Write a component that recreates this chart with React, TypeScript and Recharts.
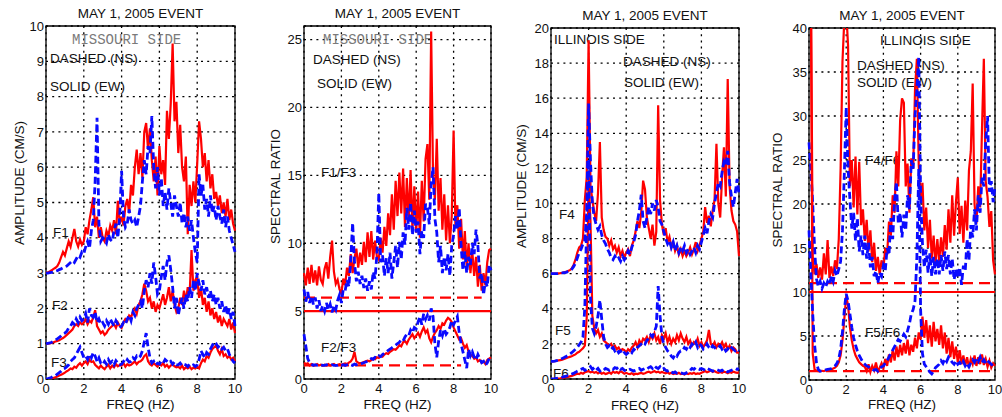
import React from 'react';
import {
  LineChart,
  Line,
  XAxis,
  YAxis,
  CartesianGrid,
  ReferenceLine,
  ReferenceArea,
  Customized,
} from 'recharts';

const FONT = '"Liberation Sans", Arial, Helvetica, sans-serif';
const MONO = '"Liberation Mono", "Courier New", monospace';
const RED = '#ff0000';
const BLUE = '#0a0aff';
const PAGE_W = 1002;
const PAGE_H = 417;
const Y_AXIS_W = 30;
const X_AXIS_H = 30;

// frequency samples (Hz)
const FREQ = [
  0, 0.1, 0.2, 0.3, 0.4, 0.5, 0.6, 0.7, 0.8, 0.9,
  1, 1.1, 1.2, 1.3, 1.4, 1.5, 1.6, 1.7, 1.8, 1.9,
  2, 2.1, 2.2, 2.3, 2.4, 2.5, 2.6, 2.7, 2.8, 2.9,
  3, 3.1, 3.2, 3.3, 3.4, 3.5, 3.6, 3.7, 3.8, 3.9,
  4, 4.1, 4.2, 4.3, 4.4, 4.5, 4.6, 4.7, 4.8, 4.9,
  5, 5.1, 5.2, 5.3, 5.4, 5.5, 5.6, 5.7, 5.8, 5.9,
  6, 6.1, 6.2, 6.3, 6.4, 6.5, 6.6, 6.7, 6.8, 6.9,
  7, 7.1, 7.2, 7.3, 7.4, 7.5, 7.6, 7.7, 7.8, 7.9,
  8, 8.1, 8.2, 8.3, 8.4, 8.5, 8.6, 8.7, 8.8, 8.9,
  9, 9.1, 9.2, 9.3, 9.4, 9.5, 9.6, 9.7, 9.8, 9.9,
  10,
];
const FREQ_TICKS = [0, 2, 4, 6, 8, 10];

// Missouri side amplitude spectra (cm/s); F1 shifted +3, F2 shifted +1
const F1_EW = [
  3.0, 3.02, 3.05, 3.08, 3.12, 3.15, 3.2, 3.3, 3.45, 3.6,
  3.5, 3.7, 3.9, 3.75, 4.0, 4.25, 3.9, 3.75, 3.95, 3.8,
  3.9, 4.3, 4.1, 4.5, 4.8, 5.15, 4.3, 4.6, 4.0, 4.3,
  4.0, 3.9, 4.2, 4.05, 4.35, 4.2, 4.5, 4.1, 5.05, 4.4,
  4.6, 4.35, 4.9, 5.1, 4.7, 5.5, 5.2, 6.0, 6.5, 5.8,
  6.4, 5.7, 7.0, 7.25, 6.5, 7.1, 6.2, 5.6, 6.3, 5.2,
  6.6, 5.8, 6.2, 5.5, 7.6, 6.8, 7.8, 9.5, 7.3, 7.85,
  6.4, 7.2, 6.0, 5.6, 6.3, 4.1, 5.5, 4.9, 5.6, 5.0,
  6.1, 7.3, 6.8, 6.0, 6.4, 5.6, 6.2, 5.4, 5.8, 5.1,
  5.3, 4.9, 5.2, 4.7, 5.0, 4.6, 5.1, 4.5, 4.8, 4.4,
  4.2,
];
const F1_NS = [
  3.0, 3.0, 3.01, 3.02, 3.03, 3.05, 3.07, 3.1, 3.12, 3.15,
  3.18, 3.2, 3.25, 3.3, 3.35, 3.3, 3.4, 3.5, 3.45, 3.6,
  3.55, 3.75, 3.9, 3.7, 4.2, 4.5, 5.6, 7.4, 4.4, 3.9,
  4.0, 3.95, 3.85, 4.1, 3.95, 3.9, 4.2, 4.4, 4.0, 4.6,
  5.9, 4.6, 4.3, 4.4, 4.8, 4.5, 4.4, 4.5, 4.3, 4.6,
  4.9, 5.6, 6.2, 5.8, 6.6, 6.4, 7.45, 6.0, 5.4, 6.0,
  5.2, 5.7, 4.9, 5.3, 4.8, 5.4, 5.0, 4.6, 5.2, 4.9,
  4.6, 5.0, 4.4, 4.7, 4.3, 4.6, 4.2, 4.5, 4.0, 3.6,
  3.3, 5.8, 5.2, 5.5, 4.8, 5.1, 4.6, 5.2, 4.7, 4.9,
  4.5, 4.9, 4.6, 4.4, 4.8, 4.3, 4.6, 4.2, 4.0, 3.8,
  3.6,
];
const F2_EW = [
  1.0, 1.0, 1.01, 1.02, 1.04, 1.06, 1.08, 1.1, 1.13, 1.16,
  1.2, 1.25, 1.3, 1.35, 1.4, 1.5, 1.55, 1.5, 1.6, 1.55,
  1.6, 1.7, 1.55, 1.65, 1.6, 1.75, 1.95, 1.5, 1.4, 1.3,
  1.35, 1.25, 1.3, 1.4, 1.45, 1.5, 1.55, 1.45, 1.6, 1.5,
  1.45, 1.6, 1.7, 1.65, 1.8, 1.75, 1.9, 2.0, 1.85, 2.1,
  2.2, 2.4, 2.7, 2.5, 2.2, 2.3, 2.0, 2.2, 1.9, 2.1,
  2.0, 2.2, 2.4, 2.1, 2.3, 2.6, 2.2, 2.5, 2.1, 1.9,
  2.0, 2.3, 2.1, 2.5, 2.2, 2.6, 2.4, 3.65, 2.5, 2.8,
  2.9, 2.3, 2.6, 2.1, 2.3, 1.9, 2.2, 1.8, 2.0, 1.7,
  1.9, 1.6, 1.8, 1.5, 1.7, 1.6, 1.5, 1.7, 1.4, 1.6,
  1.3,
];
const F2_NS = [
  1.0, 1.01, 1.02, 1.04, 1.07, 1.1, 1.14, 1.18, 1.22, 1.27,
  1.3, 1.35, 1.45, 1.5, 1.6, 1.55, 1.7, 1.6, 1.75, 1.65,
  1.7, 1.85, 1.6, 2.0, 1.8, 1.75, 1.9, 1.6, 1.7, 1.55,
  1.6, 1.5, 1.65, 1.55, 1.7, 1.6, 1.5, 1.65, 1.55, 1.45,
  1.5, 1.6, 1.55, 1.7, 1.8, 1.65, 1.9, 1.8, 2.0, 2.1,
  2.2, 2.0, 2.5, 2.8, 2.6, 3.0, 2.7, 3.3, 2.9, 2.4,
  2.5, 2.9, 3.2, 2.8, 3.3, 3.5, 3.1, 2.6, 2.0, 2.3,
  1.8, 2.1, 2.3, 2.0, 2.4, 2.2, 2.6, 2.3, 2.8, 2.5,
  3.0, 2.7, 2.5, 2.8, 2.4, 2.6, 2.3, 2.5, 2.2, 2.4,
  2.1, 2.3, 2.0, 2.2, 1.9, 2.1, 1.8, 2.0, 1.7, 1.9,
  1.5,
];
const F3_EW = [
  0.0, 0.0, 0.01, 0.02, 0.03, 0.05, 0.07, 0.1, 0.12, 0.15,
  0.18, 0.22, 0.25, 0.3, 0.28, 0.35, 0.32, 0.4, 0.45, 0.38,
  0.45, 0.5, 0.42, 0.55, 0.48, 0.5, 0.4, 0.35, 0.3, 0.38,
  0.32, 0.28, 0.35, 0.4, 0.3, 0.38, 0.33, 0.42, 0.36, 0.4,
  0.38, 0.45, 0.35, 0.42, 0.38, 0.4, 0.45, 0.5, 0.42, 0.48,
  0.5, 0.55, 0.65, 0.7, 0.5, 0.42, 0.38, 0.45, 0.4, 0.35,
  0.42, 0.38, 0.45, 0.35, 0.4, 0.32, 0.38, 0.42, 0.36, 0.33,
  0.35, 0.3, 0.38, 0.28, 0.33, 0.3, 0.35, 0.28, 0.32, 0.3,
  0.35, 0.3, 0.45, 0.55, 0.5, 0.65, 0.6, 0.75, 0.85, 0.9,
  0.95, 0.8, 0.7, 0.85, 0.65, 0.7, 0.6, 0.65, 0.55, 0.6,
  0.5,
];
const F3_NS = [
  0.0, 0.01, 0.03, 0.05, 0.08, 0.1, 0.14, 0.18, 0.22, 0.28,
  0.3, 0.35, 0.4, 0.5, 0.55, 0.6, 0.7, 0.8, 0.9, 0.75,
  0.6, 0.65, 0.55, 0.7, 0.6, 0.75, 0.65, 0.5, 0.6, 0.45,
  0.4, 0.5, 0.42, 0.55, 0.45, 0.5, 0.4, 0.52, 0.45, 0.4,
  0.42, 0.5, 0.45, 0.55, 0.48, 0.5, 0.6, 0.55, 0.65, 0.6,
  0.65, 0.8, 1.05, 1.3, 0.9, 0.6, 0.45, 0.5, 0.4, 0.45,
  0.42, 0.5, 0.45, 0.55, 0.5, 0.45, 0.5, 0.42, 0.48, 0.4,
  0.4, 0.45, 0.38, 0.42, 0.4, 0.35, 0.42, 0.38, 0.4, 0.35,
  0.4, 0.55, 0.8, 0.7, 0.6, 0.75, 0.7, 0.85, 0.95, 1.05,
  1.0, 0.9, 0.95, 0.85, 0.9, 0.8, 0.85, 0.7, 0.6, 0.5,
  0.45,
];

// Missouri side spectral ratios; F1/F3 shifted +5
const F1F3_EW = [
  7.8, 6.9, 8.2, 7.0, 8.4, 7.1, 8.0, 6.9, 8.3, 7.3,
  7.0, 8.1, 8.6, 7.4, 9.0, 10.2, 7.9, 7.0, 7.3, 6.6,
  6.3, 7.4, 6.9, 8.2, 7.6, 9.2, 7.8, 8.9, 9.6, 8.2,
  9.3, 8.4, 10.1, 8.6, 10.8, 9.0, 10.9, 8.8, 10.2, 9.0,
  8.8, 10.4, 9.3, 11.2, 9.8, 12.2, 10.6, 13.6, 11.0, 14.6,
  12.0, 15.2, 12.2, 15.5, 11.2, 14.8, 11.6, 15.4, 11.0, 14.2,
  10.8, 13.8, 10.4, 14.6, 11.6, 16.2, 17.3, 13.2, 25.6, 15.0,
  13.2, 17.7, 12.4, 14.8, 11.0, 13.6, 10.2, 12.8, 10.0, 12.0,
  18.3, 11.2, 12.8, 9.6, 11.8, 8.8, 10.9, 8.2, 10.0, 7.8,
  9.4, 7.6, 9.0, 6.8, 8.4, 6.5, 7.8, 6.9, 8.6, 9.5,
  9.6,
];
const F1F3_NS = [
  6.6, 5.7, 6.4, 5.6, 6.1, 5.5, 6.0, 5.2, 5.8, 5.0,
  5.4, 5.0, 5.6, 5.1, 5.5, 4.9, 5.4, 5.1, 5.8, 6.2,
  5.6, 6.6, 6.5, 7.3, 6.8, 8.8, 11.5, 8.6, 7.2, 7.9,
  7.0, 7.6, 6.7, 7.4, 6.5, 7.2, 6.6, 7.9, 7.4, 9.2,
  13.7, 8.6, 9.1, 7.6, 8.9, 7.8, 9.3, 7.4, 8.6, 9.8,
  8.2, 10.1, 8.8, 10.8, 9.9, 12.6, 11.0, 13.0, 10.6, 12.4,
  10.8, 11.6, 9.2, 10.9, 10.4, 12.9, 12.6, 11.4, 14.4, 15.6,
  11.8, 10.8, 8.6, 9.8, 7.8, 9.0, 8.0, 9.2, 7.6, 9.8,
  10.6, 12.0, 11.0, 12.6, 9.8, 8.0, 9.4, 7.8, 9.0, 8.4,
  10.0, 9.2, 11.0, 9.8, 7.4, 7.8, 6.2, 7.2, 6.8, 8.4,
  8.0,
];
const F2F3_EW = [
  1.2, 1.1, 1.15, 1.0, 1.1, 1.05, 1.0, 1.1, 1.0, 1.05,
  1.0, 1.05, 1.0, 1.1, 1.0, 1.05, 1.1, 1.0, 1.05, 1.1,
  1.05, 1.1, 1.15, 1.1, 1.2, 1.3, 1.5, 2.0, 1.3, 1.2,
  1.15, 1.2, 1.25, 1.3, 1.35, 1.3, 1.4, 1.5, 1.45, 1.6,
  1.55, 1.7, 1.65, 1.8, 1.9, 1.85, 2.0, 2.1, 2.2, 2.15,
  2.3, 2.5, 2.4, 2.7, 2.8, 2.6, 2.9, 3.1, 3.3, 3.0,
  3.2, 3.4, 3.1, 3.5, 3.8, 3.4, 3.6, 3.0, 2.7, 3.1,
  3.4, 3.6, 3.9, 3.7, 4.1, 4.0, 4.3, 4.5, 4.4, 4.2,
  3.8, 3.5, 3.2, 2.9, 3.0, 2.6, 2.3, 2.5, 2.0, 1.8,
  1.7, 1.5, 1.6, 1.3, 1.4, 1.2, 1.3, 1.1, 1.4, 1.5,
  1.6,
];
const F2F3_NS = [
  3.3, 2.4, 1.5, 1.2, 1.1, 1.0, 1.05, 1.0, 1.0, 1.05,
  1.0, 1.0, 1.05, 1.0, 1.0, 1.05, 1.0, 1.0, 1.0, 1.05,
  1.0, 1.05, 1.0, 1.05, 1.1, 1.05, 1.0, 1.1, 1.05, 1.1,
  1.1, 1.15, 1.2, 1.25, 1.3, 1.4, 1.5, 1.45, 1.6, 1.55,
  1.7, 1.65, 1.8, 1.9, 2.0, 2.1, 2.2, 2.3, 2.4, 2.5,
  2.6, 2.7, 2.9, 2.8, 3.1, 3.3, 3.2, 3.6, 3.4, 3.8,
  3.7, 4.2, 4.6, 4.0, 4.8, 4.4, 4.7, 4.3, 5.2, 4.6,
  2.6, 1.6, 2.8, 3.6, 3.2, 3.7, 3.3, 3.5, 3.8, 4.3,
  4.0, 4.3, 4.6, 3.4, 2.6, 2.0, 1.4, 0.8, 2.2, 1.7,
  2.0, 1.6, 1.4, 1.8, 1.5, 1.2, 1.3, 1.0, 1.2, 1.5,
  1.3,
];
// guide levels on the ratio panels: [ratio, from Hz, to Hz]
const MO_SOLID_LEVELS = [[5, 0, 10]];
const MO_DASHED_LEVELS = [[6, 0, 9.5], [1, 0, 8.4]];

// Illinois side amplitude spectra (cm/s); F4 shifted +6, F5 shifted +1
const F4_EW = [
  6.0, 6.0, 6.0, 6.0, 6.02, 6.03, 6.05, 6.08, 6.1, 6.15,
  6.2, 6.3, 6.5, 6.8, 7.2, 7.5, 7.6, 8.0, 10.2, 11.5,
  19.3, 11.0, 10.2, 9.5, 9.0, 10.6, 13.5, 9.2, 8.5, 8.1,
  8.0, 7.6, 7.9, 7.4, 7.6, 7.2, 7.5, 7.0, 7.3, 6.9,
  7.2, 7.4, 7.0, 7.6, 7.9, 8.4, 9.0, 8.6, 9.5, 11.3,
  10.8, 9.2, 8.6, 8.0, 8.8, 7.6, 8.4, 15.6, 10.2, 8.8,
  8.2, 8.6, 7.8, 8.1, 7.5, 7.8, 7.3, 7.6, 7.1, 7.4,
  7.0, 7.3, 7.0, 7.2, 7.5, 7.1, 7.4, 7.8, 7.3, 7.6,
  8.0, 8.4, 9.8, 8.9, 9.3, 8.7, 9.6, 10.2, 13.4, 10.0,
  9.2, 11.5, 13.2, 10.4, 17.1, 11.0, 9.6, 9.0, 8.8, 8.4,
  7.0,
];
const F4_NS = [
  6.0, 6.0, 6.0, 6.0, 6.01, 6.02, 6.04, 6.06, 6.08, 6.12,
  6.15, 6.25, 6.4, 6.6, 6.9, 7.2, 7.4, 7.7, 7.9, 9.5,
  15.7, 12.4, 10.0, 9.2, 8.8, 8.5, 8.7, 8.2, 7.9, 7.7,
  7.4, 7.2, 6.9, 6.8, 7.0, 6.8, 6.9, 6.7, 7.0, 6.8,
  7.0, 7.3, 7.1, 7.5, 7.8, 8.2, 9.0, 9.6, 10.5, 9.0,
  8.6, 9.2, 9.8, 9.4, 10.0, 9.6, 10.2, 9.8, 9.0, 8.8,
  8.4, 8.0, 7.7, 7.9, 7.5, 7.8, 7.3, 7.6, 7.2, 7.5,
  7.3, 7.6, 7.2, 7.4, 7.1, 7.3, 7.5, 7.2, 7.6, 7.4,
  7.8, 8.2, 8.6, 8.3, 9.0, 9.4, 9.2, 10.0, 10.6, 11.2,
  11.0, 11.8, 12.4, 12.2, 13.0, 11.2, 10.4, 9.8, 10.6, 11.4,
  10.5,
];
const F5_EW = [
  1.0, 1.0, 1.02, 1.04, 1.06, 1.08, 1.1, 1.14, 1.18, 1.22,
  1.26, 1.3, 1.35, 1.4, 1.5, 1.55, 1.65, 1.75, 1.9, 3.5,
  11.5, 9.0, 3.6, 2.9, 2.6, 2.8, 2.4, 2.6, 2.2, 2.1,
  2.0, 1.9, 2.0, 1.8, 1.9, 1.7, 1.8, 1.6, 1.7, 1.65,
  1.5, 1.7, 1.6, 1.8, 1.9, 2.1, 1.8, 2.2, 2.0, 2.3,
  2.2, 2.4, 2.1, 2.5, 2.3, 2.6, 2.2, 2.4, 2.0, 2.5,
  2.3, 2.6, 2.1, 2.4, 2.0, 2.3, 2.1, 2.5, 2.2, 2.6,
  2.3, 2.1, 2.4, 2.0, 2.2, 1.9, 2.1, 2.0, 2.3, 1.9,
  2.1, 1.8, 2.0, 2.2, 2.8, 2.0, 1.9, 2.1, 1.8, 2.0,
  1.9, 2.1, 1.8, 2.0, 1.7, 1.9, 1.6, 1.8, 1.7, 1.5,
  1.5,
];
const F5_NS = [
  1.0, 1.0, 1.02, 1.05, 1.08, 1.12, 1.17, 1.22, 1.28, 1.35,
  1.42, 1.5, 1.6, 1.7, 1.8, 1.95, 2.1, 2.4, 4.1, 9.0,
  12.5, 4.6, 2.9, 2.6, 3.0, 3.6, 4.5, 3.4, 2.4, 2.0,
  1.8, 1.9, 1.7, 1.8, 1.6, 1.7, 1.5, 1.6, 1.4, 1.5,
  1.4, 1.5, 1.6, 1.5, 1.7, 1.6, 1.8, 1.9, 2.0, 2.1,
  2.0, 2.2, 2.3, 2.5, 2.4, 2.7, 3.0, 5.3, 3.6, 2.4,
  2.0, 1.8, 1.6, 1.5, 1.3, 1.2, 1.4, 1.3, 1.5, 1.6,
  1.6, 1.8, 1.7, 1.9, 1.8, 2.0, 1.9, 2.1, 1.8, 2.0,
  1.9, 1.7, 1.8, 2.0, 1.8, 1.7, 1.9, 1.8, 1.7, 1.8,
  1.9, 1.7, 1.8, 1.6, 1.7, 1.9, 1.8, 1.7, 1.6, 1.7,
  1.6,
];
const F6_EW = [
  0.0, 0.0, 0.01, 0.02, 0.03, 0.04, 0.06, 0.08, 0.1, 0.12,
  0.15, 0.18, 0.22, 0.26, 0.3, 0.28, 0.35, 0.3, 0.38, 0.42,
  0.45, 0.38, 0.42, 0.35, 0.4, 0.32, 0.38, 0.3, 0.35, 0.28,
  0.32, 0.38, 0.3, 0.42, 0.35, 0.4, 0.33, 0.45, 0.38, 0.3,
  0.35, 0.3, 0.28, 0.33, 0.25, 0.3, 0.28, 0.32, 0.35, 0.3,
  0.33, 0.38, 0.42, 0.36, 0.4, 0.45, 0.38, 0.42, 0.35, 0.4,
  0.36, 0.32, 0.38, 0.3, 0.35, 0.28, 0.32, 0.3, 0.35, 0.28,
  0.3, 0.26, 0.32, 0.28, 0.33, 0.3, 0.35, 0.28, 0.32, 0.3,
  0.35, 0.4, 0.45, 0.38, 0.42, 0.5, 0.4, 0.45, 0.38, 0.35,
  0.4, 0.35, 0.42, 0.38, 0.33, 0.4, 0.36, 0.42, 0.38, 0.35,
  0.38,
];
const F6_NS = [
  0.0, 0.01, 0.02, 0.04, 0.06, 0.08, 0.1, 0.13, 0.16, 0.2,
  0.24, 0.28, 0.32, 0.38, 0.45, 0.5, 0.55, 0.6, 0.5, 0.55,
  0.6, 0.7, 0.55, 0.65, 0.5, 0.6, 0.45, 0.55, 0.5, 0.6,
  0.55, 0.5, 0.6, 0.55, 0.65, 0.6, 0.7, 0.55, 0.6, 0.5,
  0.45, 0.5, 0.55, 0.5, 0.45, 0.5, 0.55, 0.6, 0.5, 0.55,
  0.6, 0.55, 0.65, 0.7, 0.6, 0.75, 0.65, 0.6, 0.7, 0.55,
  0.6, 0.5, 0.45, 0.5, 0.4, 0.35, 0.4, 0.32, 0.3, 0.35,
  0.32, 0.3, 0.35, 0.4, 0.5, 0.6, 0.55, 0.65, 0.6, 0.55,
  0.6, 0.55, 0.5, 0.6, 0.55, 0.5, 0.45, 0.5, 0.55, 0.5,
  0.45, 0.5, 0.42, 0.48, 0.4, 0.45, 0.5, 0.55, 0.6, 0.55,
  0.6,
];

// Illinois side spectral ratios; F4/F6 shifted +10
const F4F6_EW = [
  45, 46, 14, 12.0, 13.2, 11.6, 12.8, 11.4, 14.4, 12.0,
  15.9, 11.6, 12.9, 11.8, 13.6, 12.6, 16.0, 24.0, 36.2, 41,
  42, 38, 22, 25.0, 19.6, 25.4, 18.8, 24.8, 17.6, 19.4,
  15.8, 18.2, 14.6, 17.0, 13.4, 15.6, 12.4, 14.0, 12.0, 13.6,
  12.6, 15.0, 14.2, 18.0, 16.4, 21.0, 19.0, 26.0, 22.0, 29.5,
  32.0, 31.5, 22.0, 24.6, 19.0, 25.2, 24.0, 33.0, 36.5, 24.4,
  20.6, 22.4, 17.0, 19.6, 15.0, 18.2, 13.8, 16.4, 13.2, 16.0,
  13.4, 16.2, 14.0, 17.6, 14.8, 19.4, 15.6, 21.0, 16.4, 20.2,
  23.0, 16.6, 19.8, 15.6, 20.4, 17.0, 23.8, 26.0, 33.7, 20.0,
  17.8, 22.0, 19.6, 28.5, 36.5, 22.6, 20.8, 17.4, 19.2, 13.6,
  12.0,
];
const F4F6_NS = [
  27, 24, 20, 15, 11.5, 10.6, 11.2, 10.4, 11.0, 10.6,
  11.2, 10.8, 11.8, 11.2, 12.4, 11.8, 12.6, 13.5, 17.0, 23.5,
  31.0, 24.0, 20.5, 17.2, 19.0, 15.8, 18.4, 14.6, 16.4, 14.2,
  16.4, 13.8, 15.6, 12.8, 14.0, 11.8, 12.4, 11.0, 12.2, 11.8,
  13.0, 12.4, 15.0, 14.2, 18.4, 16.0, 20.5, 22.5, 17.8, 19.0,
  16.2, 18.8, 17.0, 21.0, 19.4, 25.0, 24.0, 30.0, 33.0, 36.7,
  21.0, 15.5, 12.8, 14.8, 12.2, 14.4, 11.8, 14.0, 12.0, 13.8,
  12.0, 14.2, 12.4, 14.6, 12.6, 14.2, 12.0, 13.8, 11.4, 12.6,
  11.6, 12.8, 10.8, 13.0, 12.4, 16.0, 13.6, 17.6, 16.2, 19.4,
  17.0, 21.0, 19.0, 23.0, 22.0, 27.0, 30.0, 21.4, 22.6, 20.2,
  22.0,
];
const F5F6_EW = [
  45, 44, 3.0, 1.2, 1.05, 1.0, 1.0, 1.05, 1.0, 1.1,
  1.1, 1.15, 1.2, 1.3, 1.4, 1.6, 2.0, 2.8, 4.5, 7.0,
  9.5, 8.5, 6.0, 4.5, 3.5, 2.8, 2.4, 2.0, 1.8, 1.6,
  1.5, 1.0, 1.8, 0.9, 1.6, 1.1, 2.0, 1.0, 1.4, 1.9,
  1.3, 2.4, 1.6, 2.9, 2.0, 3.4, 2.2, 3.8, 2.6, 4.0,
  2.8, 4.2, 3.0, 4.6, 2.8, 4.0, 3.2, 4.8, 3.6, 5.4,
  4.6, 7.2, 4.8, 6.8, 4.2, 6.2, 3.8, 6.6, 4.4, 5.8,
  4.0, 6.2, 3.6, 5.4, 3.0, 4.8, 2.6, 4.4, 2.4, 3.8,
  2.0, 3.4, 1.8, 2.8, 1.6, 2.6, 1.4, 2.4, 1.8, 2.8,
  1.6, 2.6, 1.8, 2.9, 1.7, 2.4, 1.5, 2.2, 1.4, 1.9,
  1.6,
];
const F5F6_NS = [
  17, 12, 7.5, 4.0, 2.0, 1.2, 1.0, 1.05, 1.1, 1.15,
  1.2, 1.25, 1.3, 1.4, 1.6, 1.9, 2.4, 3.5, 5.5, 8.0,
  9.8, 9.0, 7.5, 6.0, 4.8, 4.0, 3.3, 2.8, 2.4, 2.0,
  1.8, 1.6, 1.5, 1.3, 1.2, 1.1, 1.2, 1.0, 1.3, 1.5,
  1.6, 1.9, 2.2, 2.6, 3.0, 3.4, 3.8, 4.2, 4.6, 4.4,
  4.8, 5.2, 4.9, 5.6, 6.4, 7.5, 8.0, 9.0, 14.0, 24.0,
  8.0, 3.0, 1.8, 1.5, 1.2, 0.9, 0.7, 1.0, 1.4, 1.6,
  1.8, 2.2, 1.9, 2.4, 2.1, 2.6, 2.3, 2.0, 1.8, 2.2,
  1.8, 2.0, 1.7, 2.1, 1.6, 1.9, 1.5, 2.0, 2.3, 2.0,
  2.4, 2.1, 2.6, 2.0, 2.3, 1.9, 2.2, 2.0, 1.8, 1.5,
  1.4,
];
const IL_SOLID_LEVELS = [[10, 0, 10]];
const IL_DASHED_LEVELS = [[11, 0, 10], [1, 0, 10]];

type Note = {
  text: string;
  x: number;
  y: number;
  mono?: boolean;
  rotate?: boolean;
  center?: boolean;
};

function Notes({ notes }: { notes: Note[] }) {
  return (
    <g>
      {notes.map((n, i) => (
        <text
          key={i}
          x={n.x}
          y={n.y}
          textAnchor={n.center ? 'middle' : 'start'}
          dominantBaseline="central"
          transform={n.rotate ? `rotate(-90 ${n.x} ${n.y})` : undefined}
          fontFamily={n.mono ? MONO : FONT}
          fontSize={n.mono ? 14 : 13.5}
          fill={n.mono ? '#7a7a7a' : '#111'}
        >
          {n.text}
        </text>
      ))}
    </g>
  );
}

type Trace = { key: string; values: number[]; dashed?: boolean };

interface PanelProps {
  box: { left: number; right: number; top: number; bottom: number };
  yMax: number;
  yTicks: number[];
  traces: Trace[];
  solid?: number[][];
  dashed?: number[][];
  notes: Note[];
}

function Panel({ box, yMax, yTicks, traces, solid = [], dashed = [], notes }: PanelProps) {
  const rows = FREQ.map((f, i) => {
    const row: Record<string, number> = { f };
    traces.forEach((t) => {
      row[t.key] = t.values[i];
    });
    return row;
  });
  const tickStyle = { fontSize: 13, fill: '#111', fontFamily: FONT };

  return (
    <div style={{ position: 'absolute', left: 0, top: 0 }}>
      <LineChart
        width={PAGE_W}
        height={PAGE_H}
        data={rows}
        margin={{
          top: box.top,
          right: PAGE_W - box.right,
          bottom: PAGE_H - box.bottom - X_AXIS_H,
          left: box.left - Y_AXIS_W,
        }}
      >
        <CartesianGrid stroke="#000" strokeWidth={1.3} strokeDasharray="2 4.2" />
        <XAxis
          dataKey="f"
          type="number"
          domain={[0, 10]}
          ticks={FREQ_TICKS}
          interval={0}
          height={X_AXIS_H}
          tickSize={3}
          tickMargin={2}
          tickLine={false}
          axisLine={false}
          tick={tickStyle}
        />
        <YAxis
          type="number"
          domain={[0, yMax]}
          ticks={yTicks}
          interval={0}
          width={Y_AXIS_W}
          tickSize={0}
          tickMargin={2}
          tickLine={false}
          axisLine={false}
          allowDataOverflow
          tick={tickStyle}
        />
        {solid.map(([y, from, to], i) => (
          <ReferenceLine
            key={`s${i}`}
            segment={[{ x: from, y }, { x: to, y }]}
            stroke={RED}
            strokeWidth={2.2}
          />
        ))}
        {dashed.map(([y, from, to], i) => (
          <ReferenceLine
            key={`d${i}`}
            segment={[{ x: from, y }, { x: to, y }]}
            stroke={RED}
            strokeWidth={2.2}
            strokeDasharray="11 6"
          />
        ))}
        {traces.map((t) => (
          <Line
            key={t.key}
            dataKey={t.key}
            type="linear"
            stroke={t.dashed ? BLUE : RED}
            strokeWidth={t.dashed ? 2.8 : 2.2}
            strokeDasharray={t.dashed ? '7 3.5' : undefined}
            dot={false}
            activeDot={false}
            isAnimationActive={false}
          />
        ))}
        <ReferenceArea
          x1={0}
          x2={10}
          y1={0}
          y2={yMax}
          fill="none"
          fillOpacity={0}
          stroke="#000"
          strokeWidth={1.3}
        />
        <Customized component={<Notes notes={notes} />} />
      </LineChart>
    </div>
  );
}

const TITLE = 'MAY 1, 2005 EVENT';

export default function App() {
  return (
    <div
      style={{
        position: 'absolute',
        left: 0,
        top: 0,
        width: PAGE_W,
        height: PAGE_H,
        background: '#fff',
        overflow: 'hidden',
      }}
    >
      <Panel
        box={{ left: 46, right: 235, top: 26, bottom: 379 }}
        yMax={10}
        yTicks={[0, 1, 2, 3, 4, 5, 6, 7, 8, 9, 10]}
        traces={[
          { key: 'f1ew', values: F1_EW },
          { key: 'f1ns', values: F1_NS, dashed: true },
          { key: 'f2ew', values: F2_EW },
          { key: 'f2ns', values: F2_NS, dashed: true },
          { key: 'f3ew', values: F3_EW },
          { key: 'f3ns', values: F3_NS, dashed: true },
        ]}
        notes={[
          { text: TITLE, x: 140.5, y: 13.5, center: true },
          { text: 'FREQ (HZ)', x: 140.5, y: 404, center: true },
          { text: 'AMPLITUDE (CM/S)', x: 19, y: 183, center: true, rotate: true },
          { text: 'MISSOURI SIDE', x: 72, y: 40, mono: true },
          { text: 'DASHED (NS)', x: 50, y: 58.5 },
          { text: 'SOLID (EW)', x: 50, y: 86 },
          { text: 'F1', x: 53, y: 232 },
          { text: 'F2', x: 52, y: 305 },
          { text: 'F3', x: 51, y: 362 },
        ]}
      />
      <Panel
        box={{ left: 304, right: 491, top: 26, bottom: 379 }}
        yMax={26}
        yTicks={[0, 5, 10, 15, 20, 25]}
        solid={MO_SOLID_LEVELS}
        dashed={MO_DASHED_LEVELS}
        traces={[
          { key: 'r13ew', values: F1F3_EW },
          { key: 'r13ns', values: F1F3_NS, dashed: true },
          { key: 'r23ew', values: F2F3_EW },
          { key: 'r23ns', values: F2F3_NS, dashed: true },
        ]}
        notes={[
          { text: TITLE, x: 397.5, y: 13.5, center: true },
          { text: 'FREQ (HZ)', x: 397.5, y: 404, center: true },
          { text: 'SPECTRAL RATIO', x: 275, y: 186.5, center: true, rotate: true },
          { text: 'MISSOURI SIDE', x: 323, y: 40, mono: true },
          { text: 'DASHED (NS)', x: 313, y: 59 },
          { text: 'SOLID (EW)', x: 317, y: 83 },
          { text: 'F1/F3', x: 321, y: 172 },
          { text: 'F2/F3', x: 321, y: 347 },
        ]}
      />
      <Panel
        box={{ left: 551, right: 739, top: 28, bottom: 379 }}
        yMax={20}
        yTicks={[0, 2, 4, 6, 8, 10, 12, 14, 16, 18, 20]}
        traces={[
          { key: 'f4ew', values: F4_EW },
          { key: 'f4ns', values: F4_NS, dashed: true },
          { key: 'f5ew', values: F5_EW },
          { key: 'f5ns', values: F5_NS, dashed: true },
          { key: 'f6ew', values: F6_EW },
          { key: 'f6ns', values: F6_NS, dashed: true },
        ]}
        notes={[
          { text: TITLE, x: 645, y: 15, center: true },
          { text: 'FREQ (HZ)', x: 645, y: 405, center: true },
          { text: 'AMPLITUDE (CM/S)', x: 521, y: 186, center: true, rotate: true },
          { text: 'ILLINOIS SIDE', x: 554, y: 39 },
          { text: 'DASHED (NS)', x: 623, y: 61 },
          { text: 'SOLID (EW)', x: 624, y: 82 },
          { text: 'F4', x: 559, y: 214 },
          { text: 'F5', x: 555, y: 330 },
          { text: 'F6', x: 553, y: 373 },
        ]}
      />
      <Panel
        box={{ left: 809, right: 995, top: 28, bottom: 380 }}
        yMax={40}
        yTicks={[0, 5, 10, 15, 20, 25, 30, 35, 40]}
        solid={IL_SOLID_LEVELS}
        dashed={IL_DASHED_LEVELS}
        traces={[
          { key: 'r46ew', values: F4F6_EW },
          { key: 'r46ns', values: F4F6_NS, dashed: true },
          { key: 'r56ew', values: F5F6_EW },
          { key: 'r56ns', values: F5F6_NS, dashed: true },
        ]}
        notes={[
          { text: TITLE, x: 902, y: 15, center: true },
          { text: 'FREQ (HZ)', x: 902, y: 404, center: true },
          { text: 'SPECTRAL RATIO', x: 777, y: 190, center: true, rotate: true },
          { text: 'ILLINOIS SIDE', x: 880, y: 40 },
          { text: 'DASHED (NS)', x: 857, y: 65 },
          { text: 'SOLID (EW)', x: 857, y: 82 },
          { text: 'F4/F6', x: 865, y: 160 },
          { text: 'F5/F6', x: 865, y: 332 },
        ]}
      />
    </div>
  );
}
